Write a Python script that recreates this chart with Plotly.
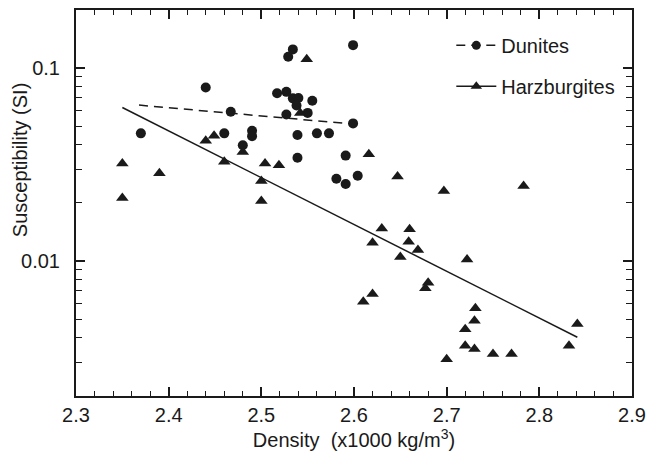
import plotly.graph_objects as go

# Dunites (circles)
dun_x = [2.599, 2.534, 2.529, 2.44, 2.517, 2.527, 2.534, 2.540, 2.555, 2.538, 2.467, 2.527,
         2.55, 2.599, 2.37, 2.46, 2.49, 2.49, 2.539, 2.56, 2.573, 2.48, 2.539, 2.591,
         2.581, 2.591, 2.604]
dun_y = [0.1315, 0.125, 0.1145, 0.0794, 0.074, 0.0753, 0.0697, 0.070, 0.0677, 0.064, 0.0594, 0.0575,
         0.0586, 0.0517, 0.0459, 0.0459, 0.0473, 0.0444, 0.045, 0.0459, 0.0459, 0.0398, 0.0343, 0.0352,
         0.0267, 0.0251, 0.0277]

# Harzburgites (triangles)
har_x = [2.549, 2.542, 2.44, 2.449, 2.48, 2.35, 2.39, 2.46, 2.504, 2.519, 2.5, 2.35, 2.5,
         2.616, 2.647, 2.697, 2.783, 2.63, 2.62, 2.66, 2.659, 2.669, 2.65, 2.722,
         2.68, 2.677, 2.62, 2.61, 2.731, 2.73, 2.72, 2.72, 2.73, 2.75, 2.77, 2.70,
         2.832, 2.841]
har_y = [0.111, 0.0586, 0.042, 0.0446, 0.0368, 0.032, 0.0285, 0.0327, 0.032, 0.0314, 0.026, 0.0212, 0.0205,
         0.0358, 0.0274, 0.0231, 0.0245, 0.01476, 0.01244, 0.0146, 0.0126, 0.0114, 0.0105, 0.0102,
         0.00773, 0.00723, 0.00675, 0.00615, 0.00569, 0.00491, 0.00443, 0.00364, 0.0035, 0.0033, 0.0033, 0.0031,
         0.00364, 0.00472]

# Fit lines (endpoints)
dun_fit_x = [2.368, 2.599]
dun_fit_y = [0.0643, 0.0513]
har_fit_x = [2.35, 2.841]
har_fit_y = [0.0625, 0.00403]

x_ticks = [2.3, 2.4, 2.5, 2.6, 2.7, 2.8, 2.9]
y_ticks = [0.01, 0.1]
y_minor = [0.003, 0.004, 0.005, 0.006, 0.007, 0.008, 0.009,
           0.02, 0.03, 0.04, 0.05, 0.06, 0.07, 0.08, 0.09]

ink = "#1a1a1a"
fig = go.Figure()

fig.add_trace(go.Scatter(x=dun_fit_x, y=dun_fit_y, mode="lines",
                         line=dict(color=ink, width=1.5, dash="9px,6px"), showlegend=False))
fig.add_trace(go.Scatter(x=har_fit_x, y=har_fit_y, mode="lines",
                         line=dict(color=ink, width=1.5), showlegend=False))
fig.add_trace(go.Scatter(x=dun_x, y=dun_y, mode="markers",
                         marker=dict(symbol="circle", size=10, color=ink), showlegend=False))
fig.add_trace(go.Scatter(x=har_x, y=har_y, mode="markers",
                         marker=dict(symbol="triangle-up", size=11, color=ink), showlegend=False))
# legend entries
fig.add_trace(go.Scatter(x=[None], y=[None], mode="lines+markers", name="Dunites", legendgroup="d",
                         line=dict(color=ink, width=1.5, dash="9px,6px"),
                         marker=dict(symbol="circle", size=9, color=ink)))
fig.add_trace(go.Scatter(x=[None], y=[None], mode="lines+markers", name="Harzburgites", legendgroup="h",
                         line=dict(color=ink, width=1.5),
                         marker=dict(symbol="triangle-up", size=10, color=ink)))

fig.add_annotation(text="Susceptibility (SI)", textangle=-90, showarrow=False,
                   xref="paper", yref="paper", x=-0.1007, y=0.611,
                   xanchor="center", yanchor="middle", font=dict(size=20, color=ink))

fig.update_layout(
    width=646, height=457,
    margin=dict(l=76, r=14, t=10, b=61, autoexpand=False),
    paper_bgcolor="white", plot_bgcolor="white",
    font=dict(family="Liberation Sans, Arial, sans-serif", size=20, color=ink),
    legend=dict(x=0.675, y=0.959, xanchor="left", yanchor="top",
                bgcolor="rgba(0,0,0,0)", font=dict(size=20), itemwidth=40,
                tracegroupgap=12),
    xaxis=dict(range=[2.3, 2.9], tickvals=x_ticks, ticktext=[f"{v:.1f}" for v in x_ticks],
               ticks="inside", ticklen=9, tickwidth=1.5, tickcolor=ink,
               showline=True, linecolor=ink, linewidth=2, mirror="ticks",
               showgrid=False, zeroline=False, tickfont=dict(size=20),
               minor=dict(dtick=0.02, ticks="inside", ticklen=5, tickwidth=1.3, tickcolor=ink, showgrid=False),
               title=dict(text="Density  (x1000 kg/m<sup>3</sup>)", font=dict(size=20), standoff=4)),
    yaxis=dict(type="log", range=[-2.699, -0.699], tickvals=y_ticks, ticktext=["0.01", "0.1"],
               ticks="inside", ticklen=9, tickwidth=1.5, tickcolor=ink,
               showline=True, linecolor=ink, linewidth=2, mirror="ticks",
               showgrid=False, zeroline=False, ticklabelstandoff=10, tickfont=dict(size=20),
               minor=dict(tickvals=y_minor, ticks="inside", ticklen=6, tickwidth=1.3, tickcolor=ink, showgrid=False)),
)

fig.write_html("out.html")
